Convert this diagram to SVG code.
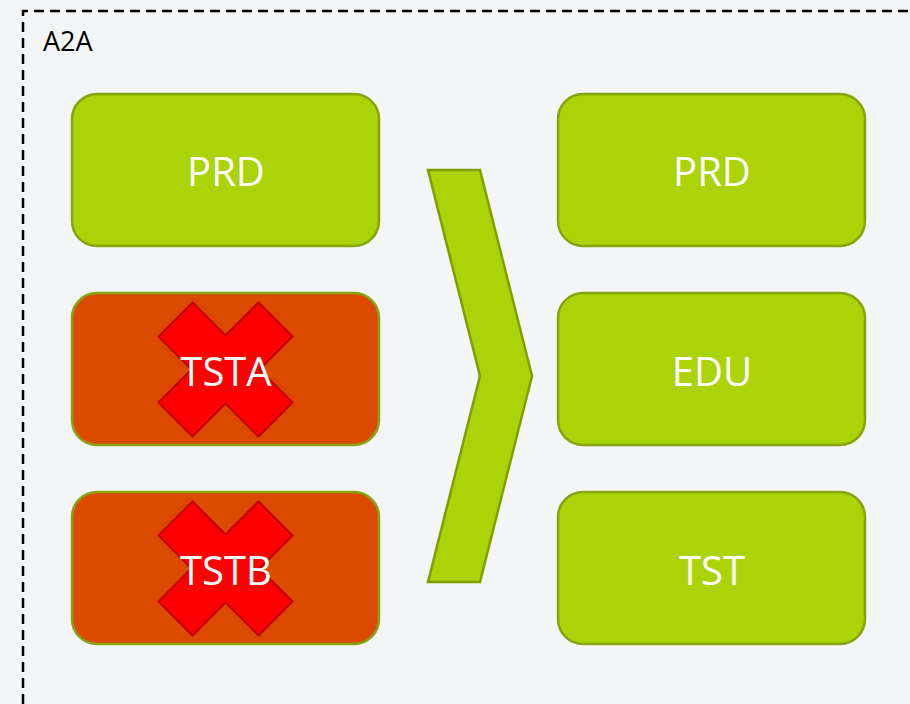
<svg xmlns="http://www.w3.org/2000/svg" width="910" height="704" viewBox="0 0 910 704">
<style>
.bg{fill:#f4f5f7}
.frame{fill:none;stroke:#000;stroke-width:2.5;stroke-dasharray:10,6}
.box{stroke:#86a40c;stroke-width:2.5}
.ok{fill:#aad308}
.bad{fill:#db4a00}
.lbl{font-family:"Open Sans","Noto Sans",sans-serif;font-size:40px;fill:#fff;text-anchor:middle}
.title{font-family:"Open Sans","Noto Sans",sans-serif;font-size:27px;fill:#000}
.x{fill:#ff0000;stroke:#c00000;stroke-width:2;stroke-linejoin:miter}
.chev{fill:#aad308;stroke:#7f9f00;stroke-width:2.5}
</style>
<defs>
<polygon id="xmark" points="-33,-67 0,-34 33,-67 67,-33 34,0 67,33 33,67 0,34 -33,67 -67,33 -34,0 -67,-33"/>
</defs>
<rect class="bg" x="0" y="0" width="910" height="704"/>
<g id="group-a2a">
<path class="frame" d="M23,720 V11 H930"/>
<text class="title" x="43" y="51">A2A</text>
</g>
<g id="node-prd-left">
<rect class="box ok" x="72" y="94" width="307" height="152" rx="25"/>
<text class="lbl" x="226" y="186">PRD</text>
</g>
<g id="node-tsta">
<rect class="box bad" x="72" y="293" width="307" height="152" rx="25"/>
<use href="#xmark" class="x" transform="translate(225.5,369.5)"/>
<text class="lbl" x="226" y="386">TSTA</text>
</g>
<g id="node-tstb">
<rect class="box bad" x="72" y="492" width="307" height="152" rx="25"/>
<use href="#xmark" class="x" transform="translate(225.5,568.5)"/>
<text class="lbl" x="226" y="585">TSTB</text>
</g>
<g id="connectors">
<polygon class="chev" points="428,170 480,170 532,376 480,582 428,582 480,376"/>
</g>
<g id="node-prd-right">
<rect class="box ok" x="558" y="94" width="307" height="152" rx="25"/>
<text class="lbl" x="712" y="186">PRD</text>
</g>
<g id="node-edu">
<rect class="box ok" x="558" y="293" width="307" height="152" rx="25"/>
<text class="lbl" x="712" y="386">EDU</text>
</g>
<g id="node-tst">
<rect class="box ok" x="558" y="492" width="307" height="152" rx="25"/>
<text class="lbl" x="712" y="585">TST</text>
</g>
</svg>
